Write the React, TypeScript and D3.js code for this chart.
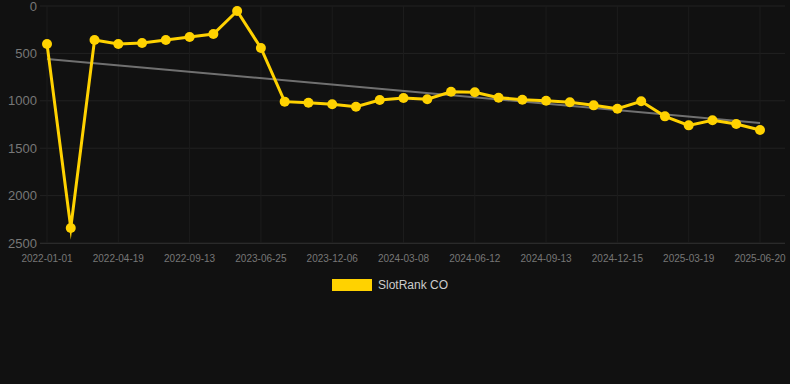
import React, { useEffect, useRef } from "react";
import * as d3 from "d3";

const dates = [
  "2022-01-01", "2022-02-06", "2022-03-14", "2022-04-19", "2022-06-08", "2022-07-26",
  "2022-09-13", "2022-12-20", "2023-03-24", "2023-06-25", "2023-08-20", "2023-10-13",
  "2023-12-06", "2024-01-05", "2024-02-06", "2024-03-08", "2024-04-10", "2024-05-12",
  "2024-06-12", "2024-07-14", "2024-08-12", "2024-09-13", "2024-10-14", "2024-11-14",
  "2024-12-15", "2025-01-15", "2025-02-16", "2025-03-19", "2025-04-19", "2025-05-20",
  "2025-06-20",
];
const rankValues = [
  401, 2342, 359, 401, 390, 359, 327, 295, 53, 443, 1009, 1020, 1037, 1062, 992, 970,
  984, 904, 910, 967, 988, 999, 1016, 1048, 1083, 1005, 1164, 1259, 1206, 1245, 1308,
];
const trendValues = [559, 1234];
const yTicks = [0, 500, 1000, 1500, 2000, 2500];
const seriesName = "SlotRank CO";

const W = 790;
const H = 384;

export default function App() {
  const ref = useRef<SVGSVGElement>(null);
  useEffect(() => {
    const svg = d3.select(ref.current);
    svg.selectAll("*").remove();
    const plotLeft = 40, plotRight = 785, plotTop = 6, plotBottom = 243;
    const x = d3.scaleLinear().domain([0, dates.length - 1]).range([47, 760]);
    const y = d3.scaleLinear().domain([0, 2500]).range([plotTop, plotBottom]);
    svg.append("rect").attr("width", W).attr("height", H).attr("fill", "#111111");

    const tickIdx = dates.map((_, i) => i).filter((i) => i % 3 === 0);
    // grid
    svg.append("g").selectAll("line").data(yTicks).join("line")
      .attr("x1", plotLeft).attr("x2", plotRight)
      .attr("y1", (d) => y(d)).attr("y2", (d) => y(d))
      .attr("stroke", "#222").attr("stroke-width", 1);
    svg.append("g").selectAll("line").data(tickIdx).join("line")
      .attr("x1", (d) => x(d)).attr("x2", (d) => x(d))
      .attr("y1", plotTop).attr("y2", plotBottom)
      .attr("stroke", "#1c1c1c").attr("stroke-width", 1);
    // axis line
    svg.append("line").attr("x1", plotLeft).attr("x2", plotRight)
      .attr("y1", plotBottom + 0.5).attr("y2", plotBottom + 0.5)
      .attr("stroke", "#2a2a2a");
    // y labels
    svg.append("g").selectAll("text").data(yTicks).join("text")
      .attr("x", 37).attr("y", (d) => y(d)).attr("dy", "0.35em")
      .attr("text-anchor", "end").attr("fill", "#777")
      .attr("font-family", "Liberation Sans, Arial, sans-serif").attr("font-size", 13)
      .text((d) => String(d));
    // x labels
    svg.append("g").selectAll("text").data(tickIdx).join("text")
      .attr("x", (d) => x(d)).attr("y", 262)
      .attr("text-anchor", "middle").attr("fill", "#777")
      .attr("font-family", "Liberation Sans, Arial, sans-serif").attr("font-size", 10)
      .text((d) => dates[d]);

    // trend
    svg.append("line")
      .attr("x1", x(0)).attr("x2", x(dates.length - 1))
      .attr("y1", y(trendValues[0])).attr("y2", y(trendValues[1]))
      .attr("stroke", "#888").attr("stroke-opacity", 0.8).attr("stroke-width", 2);

    const line = d3.line<number>().x((_, i) => x(i)).y((d) => y(d));
    svg.append("path").datum(rankValues).attr("d", line)
      .attr("fill", "none").attr("stroke", "#FFD200").attr("stroke-width", 3)
      .attr("stroke-linejoin", "miter").attr("stroke-miterlimit", 10);
    svg.append("g").selectAll("circle").data(rankValues).join("circle")
      .attr("cx", (_, i) => x(i)).attr("cy", (d) => y(d)).attr("r", 5)
      .attr("fill", "#FFD200");

    // legend
    svg.append("rect").attr("x", 332).attr("y", 279).attr("width", 40).attr("height", 12)
      .attr("fill", "#FFD200");
    svg.append("text").attr("x", 378).attr("y", 285).attr("dy", "0.35em")
      .attr("fill", "#ccc").attr("font-family", "Liberation Sans, Arial, sans-serif")
      .attr("font-size", 12).text(seriesName);
  }, []);
  return (
    <svg ref={ref} width={W} height={H}
      style={{ position: "absolute", left: 0, top: 0, display: "block" }} />
  );
}
